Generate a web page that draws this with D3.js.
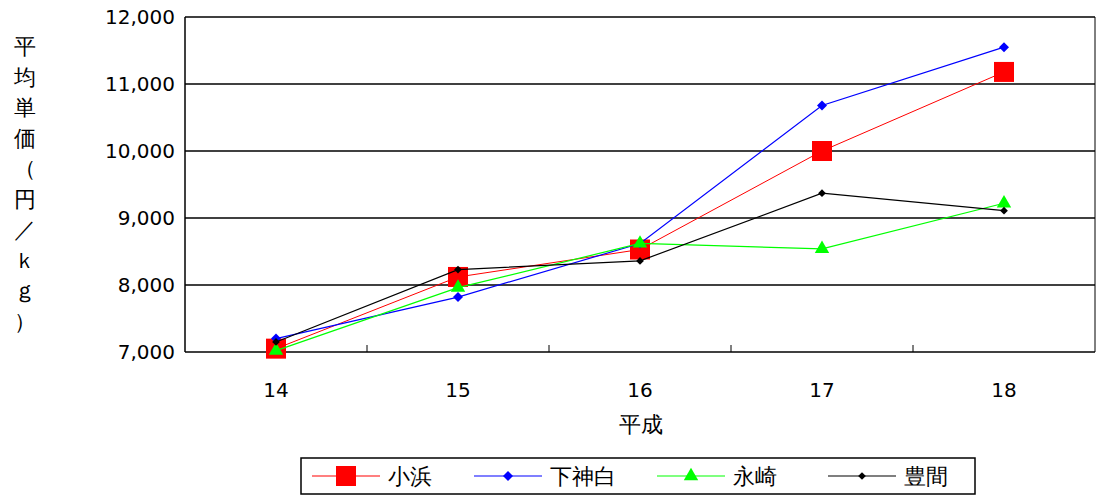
<!DOCTYPE html><html><head><meta charset="utf-8">
<script src="https://cdn.jsdelivr.net/npm/d3@7"></script>
<style>body{margin:0;background:#fff}text{font-family:"DejaVu Sans",sans-serif}</style></head><body>
<svg id="c" width="1097" height="498"></svg>
<script>
const categories=["14","15","16","17","18"];
const kohama=[7050,8120,8530,10000,11180];
const shimokajiro=[7200,7820,8620,10680,11550];
const nagasaki=[7020,7960,8620,8540,9220];
const toyoma=[7150,8230,8360,9370,9110];
const yTicks=[7000,8000,9000,10000,11000,12000];
const rhomb={draw(ctx,size){const r=Math.sqrt(size/2);ctx.moveTo(0,-r);ctx.lineTo(r,0);ctx.lineTo(0,r);ctx.lineTo(-r,0);ctx.closePath();}};
const series=[
 {name:"小浜",v:kohama,c:"#ff0000",sym:d3.symbolSquare,s:400,w:1},
 {name:"下神白",v:shimokajiro,c:"#0000ff",sym:rhomb,s:50,w:1.2},
 {name:"永崎",v:nagasaki,c:"#00ff00",sym:d3.symbolTriangle,s:90,w:1.2},
 {name:"豊間",v:toyoma,c:"#000000",sym:rhomb,s:30,w:1.2}];
const svg=d3.select("#c");
const L=185,R=1095,T=17,B=352;
const x=d3.scaleBand().domain(categories).range([L,R]);
const y=d3.scaleLinear().domain([7000,12000]).range([B,T]);
const g=svg.append("g");
yTicks.forEach(t=>{g.append("line").attr("x1",L).attr("x2",R).attr("y1",y(t)).attr("y2",y(t)).attr("stroke","#000").attr("stroke-width",1.5);
 g.append("text").attr("x",L-10).attr("y",y(t)+7).attr("text-anchor","end").attr("font-size",20).text(d3.format(",")(t));});
g.append("line").attr("x1",L).attr("x2",L).attr("y1",T).attr("y2",B).attr("stroke","#000").attr("stroke-width",1.5);
g.append("line").attr("x1",R).attr("x2",R).attr("y1",T).attr("y2",B).attr("stroke","#000").attr("stroke-width",1);
categories.forEach((c,i)=>{if(i>0)g.append("line").attr("x1",x(c)).attr("x2",x(c)).attr("y1",B).attr("y2",B-7).attr("stroke","#000");
 g.append("text").attr("x",x(c)+x.bandwidth()/2).attr("y",397).attr("text-anchor","middle").attr("font-size",20).text(c);});
g.append("text").attr("x",641).attr("y",432).attr("text-anchor","middle").attr("font-size",22).text("平成");
const yl="平均単価（円／ｋｇ）".split("");
yl.forEach((ch,i)=>g.append("text").attr("x",25).attr("y",54+i*30.5).attr("text-anchor","middle").attr("font-size",22).text(ch));
const cx=c=>x(c)+x.bandwidth()/2;
series.forEach(s=>{
 g.append("path").datum(s.v).attr("fill","none").attr("stroke",s.c).attr("stroke-width",s.w)
  .attr("d",d3.line().x((d,i)=>cx(categories[i])).y(d=>y(d)));
 s.v.forEach((d,i)=>g.append("path").attr("d",d3.symbol(s.sym,s.s)()).attr("fill",s.c).attr("transform",`translate(${cx(categories[i])},${y(d)})`));
});
const lg=svg.append("g");
lg.append("rect").attr("x",301).attr("y",458).attr("width",674).attr("height",36).attr("fill","#fff").attr("stroke","#000").attr("stroke-width",1.5);
const lx=[312,474,657,828];
series.forEach((s,i)=>{
 lg.append("line").attr("x1",lx[i]).attr("x2",lx[i]+68).attr("y1",476).attr("y2",476).attr("stroke",s.c).attr("stroke-width",1.2);
 lg.append("path").attr("d",d3.symbol(s.sym,s.s)()).attr("fill",s.c).attr("transform",`translate(${lx[i]+34},476)`);
 lg.append("text").attr("x",lx[i]+76).attr("y",484).attr("font-size",22).text(s.name);
});
</script></body></html>
